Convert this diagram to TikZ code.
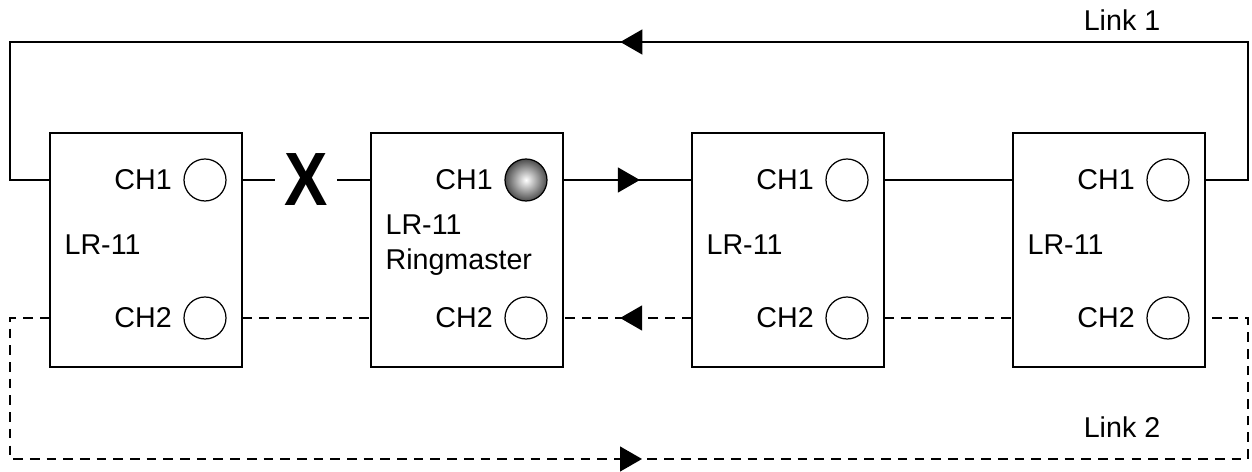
\documentclass[tikz,border=0pt]{standalone}
\usepackage{fontspec}
\usepackage{graphicx}
\setmainfont{Liberation Sans}
\usetikzlibrary{arrows.meta,positioning,decorations.markings}

\begin{document}
\begin{tikzpicture}[
  x=0.02cm,y=-0.02cm,
  line width=.7pt,
  unit/.style={draw,minimum width=3.84cm,minimum height=4.68cm,inner sep=0},
  port/.style={draw,circle,minimum size=.84cm,inner sep=0},
  master/.style={port,inner color=white,outer color=black!70},
  chtext/.style={font=\fontsize{16.3}{20}\selectfont,inner sep=0},
  link/.style={dash pattern=on 5.5pt off 4pt},
  tip/.style={postaction={decorate},decoration={markings,
    mark=at position #1 with {\arrow{Triangle[length=.44cm,width=.5cm]}}}}
]
  \useasboundingbox (0,0) rectangle (1252,472);

  % repeaters
  \foreach \i/\x/\look in {1/146/port,2/467/master,3/788/port,4/1109/port}{
    \node[unit] (box\i) at (\x,250) {};
    \node[\look] (pa\i) at (\x+59,180) {};
    \node[port] (pb\i) at (\x+59,318) {};
    \node[chtext,left=.22cm of pa\i] (cha\i) {CH1};
    \node[chtext,left=.22cm of pb\i] (chb\i) {CH2};
  }
  \foreach \i/\x in {1/64,3/706,4/1027}
    \node[chtext,anchor=west] (name\i) at (\x,245) {LR-11};
  \node[chtext,anchor=west,align=left] (name2) at (385,245) {LR-11\\Ringmaster};

  \node[font=\fontsize{43}{43}\selectfont\bfseries,inner sep=5pt] (cross) at (306,180)
    {\scalebox{.86}[1]{X}};
  \node[chtext] (link1) at (1122,20) {Link 1};
  \node[chtext] (link2) at (1122,427) {Link 2};

  \coordinate (nw) at (10,42);
  \coordinate (ne) at (1248,42);
  \coordinate (sw) at (10,459);
  \coordinate (se) at (1248,459);

  % link 1
  \draw (box1.east |- pa1) -- (cross);
  \draw (cross) -- (box2.west |- pa2);
  \draw[tip=.597] (box2.east |- pa2) -- (box3.west |- pa3);
  \draw (box3.east |- pa3) -- (box4.west |- pa4);
  \draw (box4.east |- pa4) -| (ne) -- (nw) |- (box1.west |- pa1);
  \path[tip=.507] (ne) -- (nw);

  % link 2
  \draw[link] (box1.east |- pb1) -- (box2.west |- pb2);
  \draw[link,tip=.558] (box3.west |- pb3) -- (box2.east |- pb2);
  \draw[link] (box3.east |- pb3) -- (box4.west |- pb4);
  \draw[link] (box1.west |- pb1) -| (sw) -- (se) |- (box4.east |- pb4);
  \path[tip=.5105] (sw) -- (se);
\end{tikzpicture}
\end{document}
